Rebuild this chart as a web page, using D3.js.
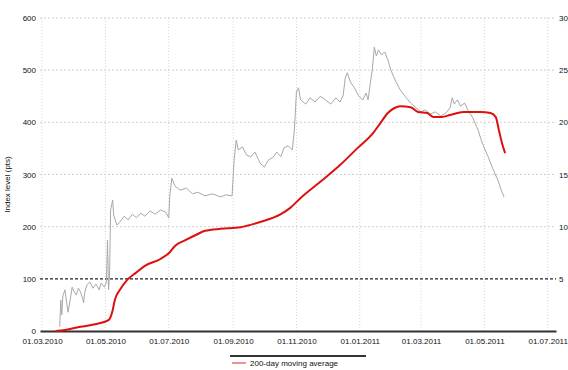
<!DOCTYPE html>
<html>
<head>
<meta charset="utf-8">
<script src="https://cdn.jsdelivr.net/npm/d3@7"></script>
<style>
  html, body { margin: 0; padding: 0; background: #fff; }
  svg { display: block; font-family: "Liberation Sans", Arial, sans-serif; }
</style>
</head>
<body>
<svg id="chart" width="568" height="370"></svg>
<script>
// Daily close (grey)
const closeDates = ["2010-03-18","2010-03-19","2010-03-20","2010-03-21","2010-03-23","2010-03-25","2010-03-26","2010-03-28","2010-03-30","2010-04-01","2010-04-03","2010-04-05","2010-04-07","2010-04-09","2010-04-10","2010-04-11","2010-04-13","2010-04-16","2010-04-19","2010-04-22","2010-04-25","2010-04-27","2010-04-30","2010-05-02","2010-05-03","2010-05-04","2010-05-05","2010-05-06","2010-05-08","2010-05-09","2010-05-12","2010-05-15","2010-05-19","2010-05-23","2010-05-27","2010-05-31","2010-06-04","2010-06-08","2010-06-13","2010-06-18","2010-06-23","2010-06-28","2010-07-01","2010-07-02","2010-07-04","2010-07-07","2010-07-12","2010-07-18","2010-07-24","2010-07-29","2010-08-05","2010-08-12","2010-08-20","2010-08-25","2010-08-31","2010-09-02","2010-09-04","2010-09-06","2010-09-10","2010-09-14","2010-09-18","2010-09-22","2010-09-27","2010-10-01","2010-10-05","2010-10-09","2010-10-13","2010-10-17","2010-10-20","2010-10-24","2010-10-28","2010-10-30","2010-11-01","2010-11-03","2010-11-05","2010-11-10","2010-11-14","2010-11-19","2010-11-24","2010-11-29","2010-12-04","2010-12-09","2010-12-13","2010-12-16","2010-12-18","2010-12-20","2010-12-23","2010-12-27","2010-12-31","2011-01-04","2011-01-07","2011-01-09","2011-01-11","2011-01-13","2011-01-15","2011-01-17","2011-01-19","2011-01-22","2011-01-25","2011-01-28","2011-01-31","2011-02-04","2011-02-09","2011-02-14","2011-02-19","2011-02-24","2011-03-01","2011-03-05","2011-03-10","2011-03-15","2011-03-20","2011-03-25","2011-03-29","2011-03-31","2011-04-02","2011-04-05","2011-04-08","2011-04-12","2011-04-15","2011-04-20","2011-04-25","2011-04-29","2011-05-04","2011-05-09","2011-05-14","2011-05-18","2011-05-20"];
const closeValues = [8,59,31,67,79,50,36,59,84,75,69,82,75,63,54,73,88,94,82,90,79,92,84,94,174,79,107,232,251,222,203,209,220,213,224,217,226,220,230,224,232,228,217,259,293,278,270,274,263,266,259,263,257,261,259,328,366,347,353,337,334,343,322,314,328,332,343,334,351,355,347,385,458,466,443,435,447,439,450,443,435,447,439,452,485,495,477,466,450,443,456,443,473,500,544,527,539,529,535,520,500,481,462,449,437,428,420,424,416,420,412,418,428,447,435,443,431,437,424,408,385,360,337,312,289,266,257];

// Moving average (red)
const avgDates = ["2010-03-14","2010-03-23","2010-04-07","2010-04-21","2010-05-04","2010-05-08","2010-05-10","2010-05-15","2010-05-22","2010-05-30","2010-06-08","2010-06-23","2010-07-02","2010-07-07","2010-07-17","2010-07-27","2010-08-05","2010-08-20","2010-09-08","2010-09-27","2010-10-17","2010-10-26","2010-11-05","2010-11-24","2010-12-13","2010-12-30","2011-01-14","2011-01-21","2011-01-28","2011-02-03","2011-02-09","2011-02-19","2011-02-26","2011-03-07","2011-03-13","2011-03-20","2011-03-29","2011-04-11","2011-04-27","2011-05-07","2011-05-12","2011-05-15","2011-05-18","2011-05-21"];
const avgValues = [0,2,8,13,21,40,59,79,98,111,125,138,151,163,174,184,192,196,199,209,224,236,255,286,318,351,380,399,418,427,431,429,420,418,410,410,414,420,420,418,410,385,360,341];

// Axis ticks
const xTickDates = ["2010-03-01","2010-05-01","2010-07-01","2010-09-01","2010-11-01","2011-01-01","2011-03-01","2011-05-01","2011-07-01"];
const leftTicks = [0,100,200,300,400,500,600];
const rightTicks = [5,10,15,20,25,30];
const referenceLevel = 100;
const yTitle = "Index level (pts)";
const legendLabel = "200-day moving average";

const parse = d3.timeParse("%Y-%m-%d");
const fmt = d3.timeFormat("%d.%m.%Y");

const svg = d3.select("#chart");
const m = { left: 40, right: 12, top: 18, bottom: 39 };
const W = 568, H = 370;
const iw = W - m.left - m.right, ih = H - m.top - m.bottom;

const x = d3.scaleTime()
  .domain([parse("2010-02-27"), parse("2011-07-09")])
  .range([m.left, m.left + iw]);
const y = d3.scaleLinear().domain([0, 600]).range([m.top + ih, m.top]);
const yR = d3.scaleLinear().domain([0, 30]).range([m.top + ih, m.top]);

const xTicks = xTickDates.map(parse);

// grid
const grid = svg.append("g");
grid.selectAll("line.v").data(xTicks).join("line")
  .attr("x1", d => x(d)).attr("x2", d => x(d))
  .attr("y1", m.top).attr("y2", m.top + ih)
  .attr("stroke", "#d4d4d4").attr("stroke-dasharray", "1,2");
grid.selectAll("line.h").data(leftTicks.filter(v => v > 0 && v !== referenceLevel)).join("line")
  .attr("x1", m.left).attr("x2", m.left + iw)
  .attr("y1", d => y(d)).attr("y2", d => y(d))
  .attr("stroke", "#cfcfcf").attr("stroke-dasharray", "2,2");

// reference level
svg.append("line")
  .attr("x1", m.left).attr("x2", m.left + iw)
  .attr("y1", y(referenceLevel)).attr("y2", y(referenceLevel))
  .attr("stroke", "#222").attr("stroke-width", 1.2).attr("stroke-dasharray", "3,2");

// left axis
const yAxis = svg.append("g")
  .attr("transform", `translate(${m.left - 3},0)`)
  .call(d3.axisLeft(y).tickValues(leftTicks).tickSize(0).tickPadding(1));
yAxis.select(".domain").remove();

// right axis
const yAxisR = svg.append("g")
  .attr("transform", `translate(${m.left + iw + 2},0)`)
  .call(d3.axisRight(yR).tickValues(rightTicks).tickSize(0).tickPadding(1));
yAxisR.select(".domain").remove();

// x axis
const xAxis = svg.append("g")
  .attr("transform", `translate(0,${m.top + ih})`)
  .call(d3.axisBottom(x).tickValues(xTicks).tickFormat(fmt).tickSize(0).tickPadding(7));
xAxis.select(".domain").attr("stroke", "#333").attr("stroke-width", 2);

svg.selectAll(".tick text").attr("font-size", 8).attr("fill", "#111")
  .attr("font-family", "'Liberation Sans', Arial, sans-serif");

// y title
svg.append("text")
  .attr("transform", `translate(10,${m.top + ih / 2 + 10}) rotate(-90)`)
  .attr("text-anchor", "middle").attr("font-size", 8).attr("fill", "#111")
  .text(yTitle);

// series
const closeData = closeDates.map((d, i) => ({ date: parse(d), value: closeValues[i] }));
const avgData = avgDates.map((d, i) => ({ date: parse(d), value: avgValues[i] }));
const line = d3.line().x(d => x(d.date)).y(d => y(d.value));

svg.append("path").datum(closeData)
  .attr("d", line).attr("fill", "none")
  .attr("stroke", "#a8a8a8").attr("stroke-width", 1);

svg.append("path").datum(avgData)
  .attr("d", line.curve(d3.curveMonotoneX)).attr("fill", "none")
  .attr("stroke", "#dd1010").attr("stroke-width", 2);

// legend
const lg = svg.append("g").attr("transform", "translate(230,356)");
lg.append("line").attr("x1", 0).attr("x2", 136).attr("y1", 0).attr("y2", 0)
  .attr("stroke", "#333").attr("stroke-width", 2);
lg.append("line").attr("x1", 2).attr("x2", 16).attr("y1", 7).attr("y2", 7)
  .attr("stroke", "#dd1010").attr("stroke-width", 2).attr("opacity", 0.45);
lg.append("text").attr("x", 20).attr("y", 10).attr("font-size", 8).attr("fill", "#111")
  .text(legendLabel);
</script>
</body>
</html>
